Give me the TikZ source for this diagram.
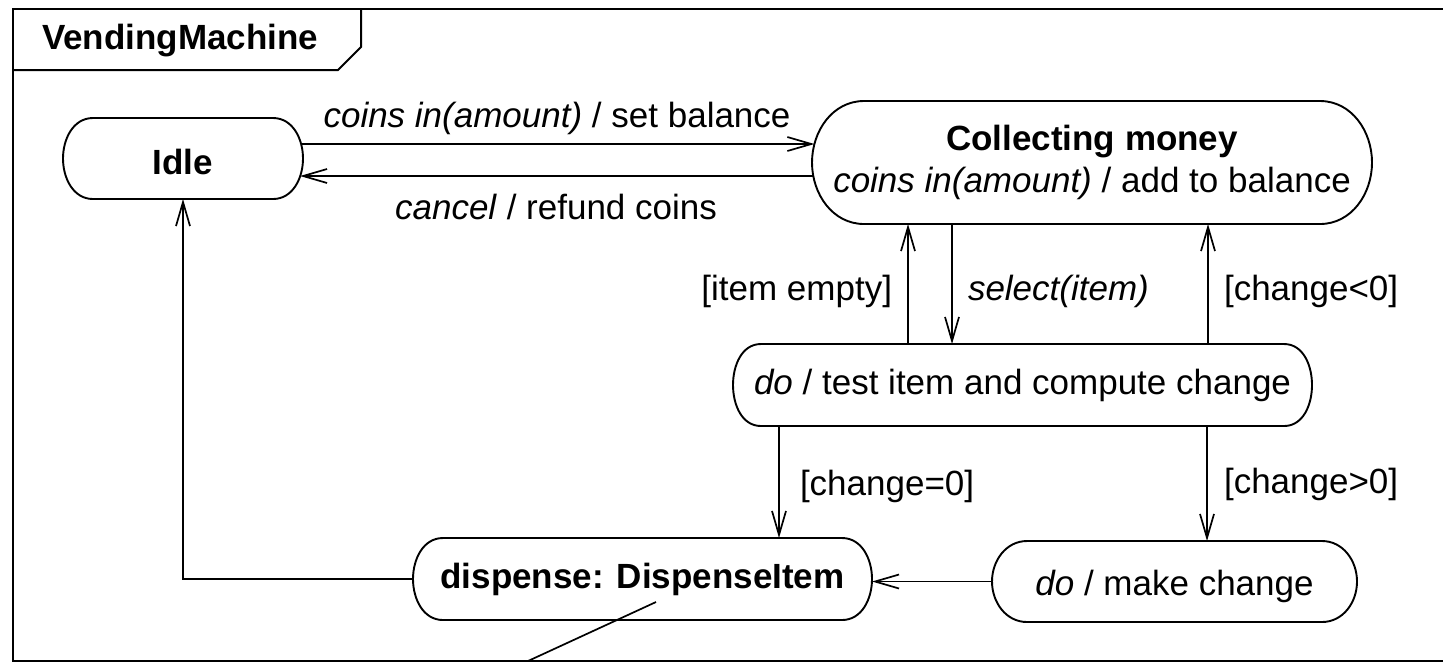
\documentclass[tikz,border=0pt]{standalone}
\usepackage{fontspec}
\setmainfont{Liberation Sans}
\usetikzlibrary{arrows.meta,calc}
\newcommand\stoutline[2]{\draw[stline] ([xshift=#2]#1.north west) -- ([xshift=-#2]#1.north east) to[out=0,in=90] (#1.east) to[out=-90,in=0] ([xshift=-#2]#1.south east) -- ([xshift=#2]#1.south west) to[out=180,in=-90] (#1.west) to[out=90,in=180] cycle;}
\begin{document}
\begin{tikzpicture}[x=0.5pt,y=-0.5pt,
  every node/.style={font=\fontsize{17.5}{21}\selectfont, inner sep=0pt, outer sep=0pt},
  stline/.style={line width=0.95pt, line join=round},
  framestyle/.style={line width=1pt},
  tr/.style={line width=0.85pt, -{Straight Barb[length=12pt,width=7pt,line width=0.85pt]}},
  plainline/.style={line width=0.85pt},
  lbl/.style={anchor=base west},
  stnode/.style={align=center}
]
\useasboundingbox (0,0) rectangle (1443,666);
% frame
\draw[framestyle] (1443,9) -- (13,9) -- (13,661) -- (1443,661);
\draw[framestyle] (13,70) -- (338,70) -- (361,47) -- (361,9);
\node[anchor=base west, font=\fontsize{17.5}{21}\selectfont\bfseries] (title) at (42,49) {VendingMachine};
% states
\node[stnode, minimum width=120pt, minimum height=40.5pt, text height=16pt, text depth=0pt, font=\fontsize{17.5}{21}\selectfont\bfseries] (Idle) at (183,158.5) {Idle};
\node[stnode, minimum width=280pt, minimum height=61.5pt] (Coll) at (1092,162.5) {\textbf{Collecting money}\\\textit{coins in(amount)} / add to balance};
\node[stnode, minimum width=289.5pt, minimum height=41pt] (Test) at (1022.5,385) {\textit{do} / test item and compute change};
\node[stnode, minimum width=229.5pt, minimum height=41pt, font=\fontsize{17.5}{21}\selectfont\bfseries] (Disp) at (642.5,579) {dispense: DispenseItem};
\node[stnode, minimum width=182.5pt, minimum height=40.5pt, text height=14pt, text depth=0pt] (Make) at (1174.5,581.5) {\textit{do} / make change};
\stoutline{Idle}{15pt}
\stoutline{Coll}{26pt}
\stoutline{Test}{14pt}
\stoutline{Disp}{15pt}
\stoutline{Make}{17.5pt}
% transitions
\draw[tr] ($(Idle.east)+(-2,-14.5)$) -- ($(Coll.west)+(2.4,-18.5)$);
\draw[tr] ($(Coll.west)+(1.3,13.5)$) -- ($(Idle.east)+(-3,17.5)$);
\draw[tr] ($(Test.north)+(-114.5,0)$) -- ($(Coll.south)+(-184,0)$);
\draw[tr] ($(Coll.south)+(-140,0)$) -- ($(Test.north)+(-70.5,0)$);
\draw[tr] ($(Test.north)+(185.5,0)$) -- ($(Coll.south)+(116,0)$);
\draw[tr] ($(Test.south)+(-243.5,0)$) -- ($(Disp.north)+(136.5,0)$);
\draw[tr] ($(Test.south)+(184.5,0)$) -- ($(Make.north)+(32.5,0)$);
\draw[tr] (Make.west) -- (Make.west -| Disp.east);
\draw[tr] (Disp.west) -| (Idle.south);
% note line
\coordinate (noteA) at (656,602);
\coordinate (noteB) at (528,661);
\draw[plainline] (noteA) -- (noteB);
% labels
\node[anchor=base] (l1) at (557,127) {\textit{coins in(amount)} / set balance};
\node[anchor=base] (l2) at (556,219) {\textit{cancel} / refund coins};
\node[anchor=base east] (l3) at (892,300) {[item empty]};
\node[lbl] (l4) at (968,300) {\textit{select(item)}};
\node[lbl] (l5) at (1224,300) {[change<0]};
\node[lbl] (l6) at (800,495) {[change=0]};
\node[lbl] (l7) at (1224,493) {[change>0]};
\end{tikzpicture}
\end{document}
